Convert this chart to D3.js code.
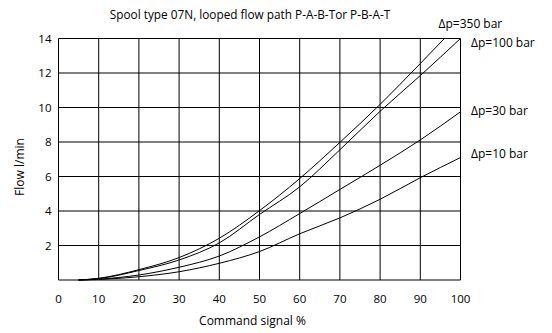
<!DOCTYPE html>
<meta charset="utf-8">
<script src="https://d3js.org/d3.v7.min.js"></script>
<style>
  body { margin: 0; background: #fff; }
  text { font-family: "Open Sans", sans-serif; fill: #000; }
</style>
<div id="chart"></div>
<script>
// values (command signal % -> flow l/min)
var signal = [5, 10, 20, 30, 40, 50, 60, 70, 80, 90, 100];
var flow350 = [0, 0.1, 0.6, 1.3, 2.42, 4.02, 5.88, 7.98, 10.18, 12.55];
var flow100 = [0, 0.08, 0.55, 1.16, 2.15, 3.8, 5.4, 7.55, 9.78, 11.85, 14];
var flow30 = [0, 0.05, 0.29, 0.74, 1.39, 2.5, 3.85, 5.25, 6.65, 8.12, 9.75];
var flow10 = [0, 0.03, 0.19, 0.48, 0.97, 1.65, 2.68, 3.6, 4.68, 5.93, 7.1];
var end350 = [96, 14]; // 350 bar leaves the chart top before 100 %
var seriesNames = ["\u0394p=350 bar", "\u0394p=100 bar", "\u0394p=30 bar", "\u0394p=10 bar"];
var xTicks = [0, 10, 20, 30, 40, 50, 60, 70, 80, 90, 100];
var yTicks = [2, 4, 6, 8, 10, 12, 14];

var width = 552, height = 333;
var margin = {top: 38.5, right: 91.5, bottom: 53, left: 58.5};
var w = width - margin.left - margin.right,
    h = height - margin.top - margin.bottom;

var svg = d3.select("#chart").append("svg")
    .attr("width", width)
    .attr("height", height);

var g = svg.append("g")
    .attr("transform", "translate(" + margin.left + "," + margin.top + ")");

var x = d3.scaleLinear().domain([0, 100]).range([0, w]);
var y = d3.scaleLinear().domain([0, 14]).range([h, 0]);

// grid
g.selectAll(".vgrid").data(xTicks).enter().append("line")
    .attr("x1", function(d) { return x(d); })
    .attr("x2", function(d) { return x(d); })
    .attr("y1", 0).attr("y2", h)
    .attr("stroke", "#000").attr("stroke-width", 1);
g.selectAll(".hgrid").data([0].concat(yTicks)).enter().append("line")
    .attr("y1", function(d) { return y(d); })
    .attr("y2", function(d) { return y(d); })
    .attr("x1", 0).attr("x2", w)
    .attr("stroke", "#000").attr("stroke-width", 1);

// tick labels
g.selectAll(".xlab").data(xTicks).enter().append("text")
    .attr("x", function(d) { return x(d); })
    .attr("y", h + 22.5)
    .attr("text-anchor", "middle")
    .attr("font-size", "11.5px")
    .text(function(d) { return d; });
g.selectAll(".ylab").data(yTicks).enter().append("text")
    .attr("x", -7)
    .attr("y", function(d) { return y(d) + 4; })
    .attr("text-anchor", "end")
    .attr("font-size", "11.5px")
    .text(function(d) { return d; });

// axis titles
svg.append("text")
    .attr("x", 252.5).attr("y", 325)
    .attr("text-anchor", "middle")
    .attr("font-size", "12px")
    .text("Command signal %");
svg.append("text")
    .attr("transform", "translate(24,167) rotate(-90)")
    .attr("text-anchor", "middle")
    .attr("font-size", "12px")
    .text("Flow l/min");
svg.append("text")
    .attr("x", 250).attr("y", 18.5)
    .attr("text-anchor", "middle")
    .attr("font-size", "11.8px")
    .text("Spool type 07N, looped flow path P-A-B-Tor P-B-A-T");

// curves
var line = d3.line()
    .x(function(d) { return x(d[0]); })
    .y(function(d) { return y(d[1]); })
    .curve(d3.curveMonotoneX);

[flow350, flow100, flow30, flow10].forEach(function(vals) {
  var pts = vals.map(function(v, i) { return [signal[i], v]; });
  if (vals === flow350) pts.push(end350);
  g.append("path")
      .datum(pts)
      .attr("d", line)
      .attr("fill", "none")
      .attr("stroke", "#000")
      .attr("stroke-width", 1);
});

// series labels
var labelPos = [[438.5, 27.5], [471, 46.5], [471, 114.5], [471, 157.5]];
svg.selectAll(".slab").data(seriesNames).enter().append("text")
    .attr("x", function(d, i) { return labelPos[i][0]; })
    .attr("y", function(d, i) { return labelPos[i][1]; })
    .attr("font-size", "12px")
    .text(function(d) { return d; });
</script>
